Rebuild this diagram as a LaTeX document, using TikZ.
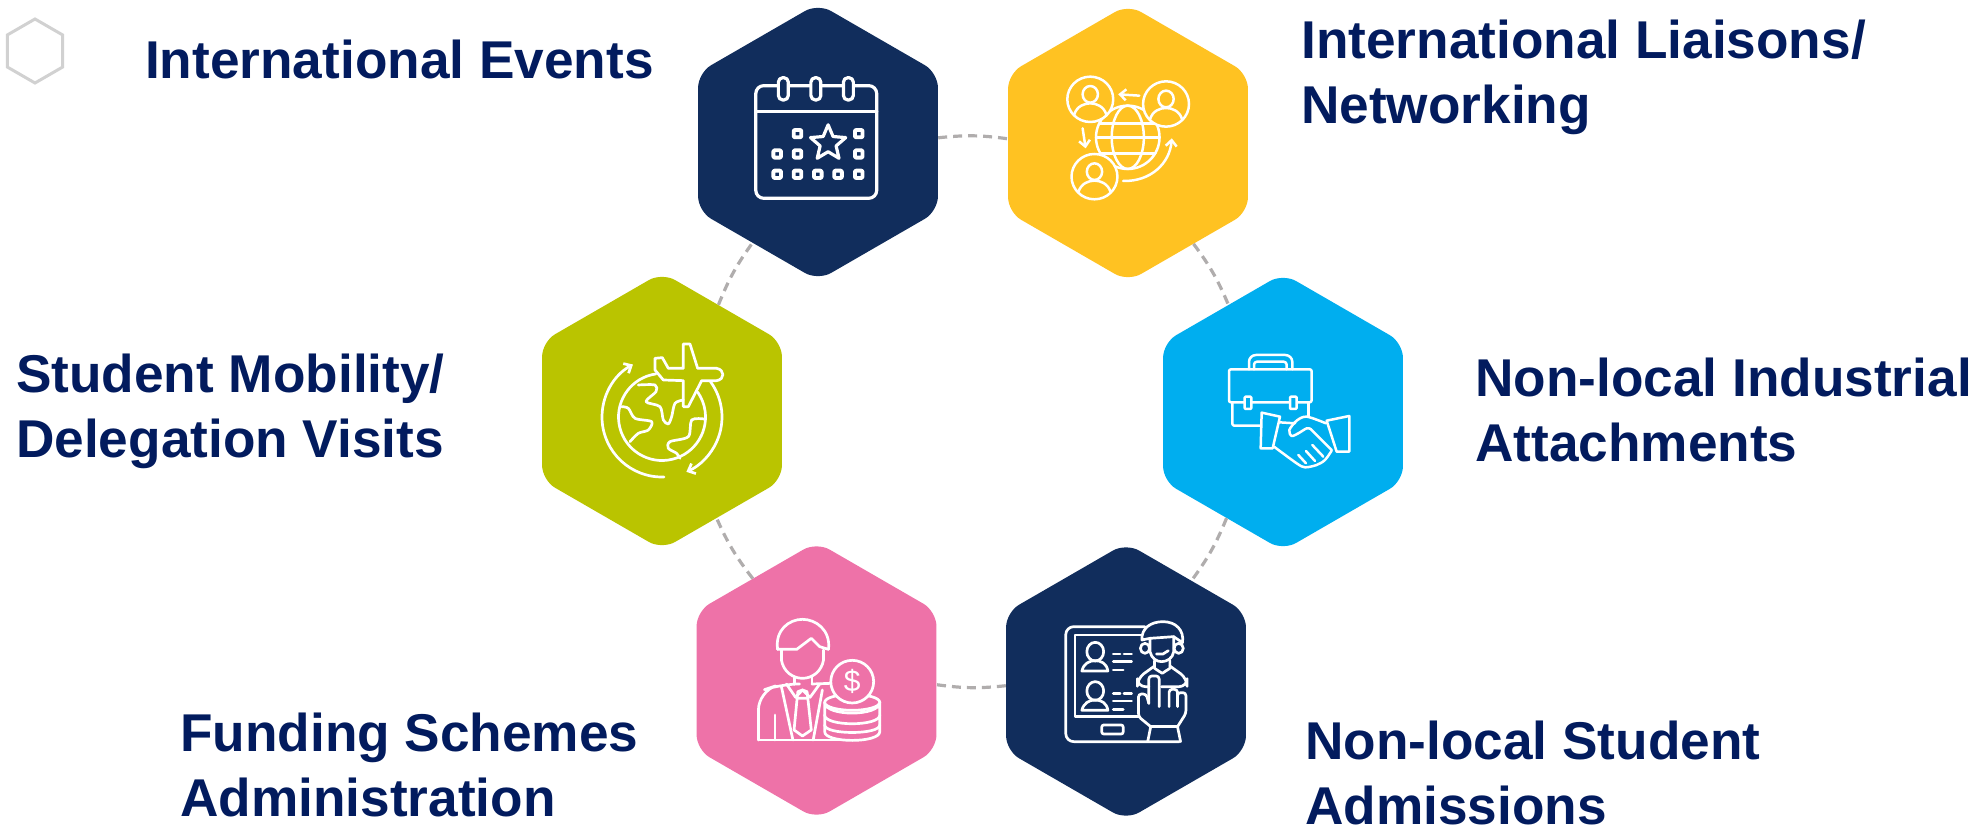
\documentclass[tikz,border=0pt]{standalone}
\usepackage{fontspec}
\setmainfont{Liberation Sans}
\usetikzlibrary{shapes.geometric, arrows.meta, positioning}

\definecolor{navyhex}{HTML}{112D5C}
\definecolor{yellowhex}{HTML}{FFC222}
\definecolor{greenhex}{HTML}{BAC400}
\definecolor{bluehex}{HTML}{00AEEF}
\definecolor{pinkhex}{HTML}{EE72A8}
\definecolor{labelnavy}{HTML}{021B5E}
\definecolor{ringgray}{HTML}{B0ADAD}

\tikzset{
    hexnode/.style={regular polygon, regular polygon sides=6, regular polygon rotate=30, minimum size=277pt, inner sep=0pt, rounded corners=15pt, fill=#1},
    hexlabel/.style={anchor=west, inner sep=0pt, align=left, text=labelnavy, font=\fontsize{53.2}{65}\selectfont\bfseries},
    ringline/.style={ringgray, line width=3.2pt, dash pattern=on 9pt off 6pt},
    icon/.style={white, line width=3pt, line cap=round, line join=round, >={Straight Barb[length=6pt, width=11pt]}},
    cropwide/.style={x=0.3827pt, y=-0.3333pt},
    cropsquare/.style={x=0.3333pt, y=-0.3333pt},
    personpic/.pic={
        \draw[fill=yellowhex] (0,0) ellipse [x radius=60, y radius=68];
        \draw (0,-15) ellipse [x radius=20, y radius=25];
        \draw (-42,46) .. controls (-35,20) and (-15,12) .. (0,12) .. controls (15,12) and (35,20) .. (42,46);
    }
}

\begin{document}
\begin{tikzpicture}[x=1pt, y=1pt]
    \useasboundingbox (0,0) rectangle (1977,-829);

    % small outline hexagon, top left
    \node[regular polygon, regular polygon sides=6, regular polygon rotate=30, minimum size=64pt, inner sep=0pt, draw=black!18, line width=3pt] (cornerhex) at (35,-51) {};

    % the six hexagons
    \node[hexnode=navyhex] (events) at (818,-142) {};
    \node[hexnode=yellowhex] (liaisons) at (1128,-143) {};
    \node[hexnode=bluehex] (attach) at (1283,-412) {};
    \node[hexnode=navyhex] (admit) at (1126,-681.5) {};
    \node[hexnode=pinkhex] (funding) at (816.5,-680.5) {};
    \node[hexnode=greenhex] (mobility) at (662,-411) {};

    % dashed ring pieces
    \draw[ringline] (events.2) to[bend left=7] (liaisons.178);
    \draw[ringline] (liaisons.-57.5) to[bend left=7] (attach.117.6);
    \draw[ringline] (attach.242.3) to[bend left=7] (admit.57.4);
    \draw[ringline] (admit.182) to[bend left=7] (funding.-2.4);
    \draw[ringline] (funding.122.2) to[bend left=7] (mobility.-63);
    \draw[ringline] (mobility.62.4) to[bend left=7] (events.237);

    % labels
    \node[hexlabel] (eventstext) at (145,-59) {International Events};
    \node[hexlabel] (liaisonstext) at (1301,-77) {International Liaisons/\\Networking};
    \node[hexlabel] (attachtext) at (1475,-410) {Non-local Industrial\\Attachments};
    \node[hexlabel] (admittext) at (1305,-773) {Non-local Student\\Admissions};
    \node[hexlabel] (fundingtext) at (180,-765) {Funding Schemes\\Administration};
    \node[hexlabel] (mobilitytext) at (16,-411) {Student Mobility/\\Delegation Visits};

    % calendar icon
    \begin{scope}[icon, line width=3.2pt, shift={(680,0)}, cropwide]
        \draw[rounded corners=8pt] (198,257) rectangle (514,595);
        \draw (198,335) -- (514,335);
        \foreach \ringx in {270,355,440} {
            \draw[fill=navyhex, rounded corners=4.5pt] (\ringx-13,233) rectangle (\ringx+13,300);
        }
        \foreach \boxx/\boxy in {307/401, 467/401, 254/462, 307/462, 467/462, 254/523, 307/523, 360/523, 413/523, 467/523} {
            \draw[rounded corners=1pt, line width=3.8pt] (\boxx-10,\boxy-11) rectangle (\boxx+10,\boxy+11);
        }
        \node[star, star points=5, star point ratio=2.2, draw=white, inner sep=0pt, minimum size=37pt] (calstar) at (387,430) {};
    \end{scope}

    % globe and people icon
    \begin{scope}[icon, line width=2.5pt, shift={(680,0)}, cropwide]
        \draw (1170,412) ellipse [x radius=83, y radius=95];
        \draw (1170,412) ellipse [x radius=42, y radius=95];
        \draw (1096,370) -- (1244,370);
        \draw (1087,412) -- (1253,412);
        \draw (1098,460) -- (1242,460);
        \pic at (1072,298) {personpic};
        \pic at (1270,312) {personpic};
        \pic at (1083,530) {personpic};
        \draw[->] (1200,287) -- (1145,283);
        \draw[->] (1052,385) -- (1060,445);
        \draw[->] (1158,543) .. controls (1230,545) and (1280,490) .. (1285,415);
    \end{scope}

    % handshake and briefcase icon
    \begin{scope}[icon, line width=2.5pt, shift={(1150,-260)}, cropsquare]
        \draw[rounded corners=2pt] (237,328) rectangle (485,427);
        \draw[rounded corners=2pt] (247,427) -- (247,497) -- (330,497);
        \draw (475,427) -- (475,470);
        \draw[rounded corners=7pt] (297,328) -- (297,285) -- (427,285) -- (427,328);
        \draw[rounded corners=3pt] (312,328) -- (312,305) -- (410,305) -- (410,328);
        \draw[fill=bluehex, rounded corners=1pt] (284,410) rectangle (304,447);
        \draw[fill=bluehex, rounded corners=1pt] (420,410) rectangle (440,447);
        \draw[fill=bluehex] (335,458) -- (390,470) -- (368,565) -- (332,565) -- cycle;
        \draw[fill=bluehex] (530,482) -- (598,468) -- (598,575) -- (560,575) -- cycle;
        \draw (388,487) -- (435,490);
        \draw plot[smooth] coordinates {(372,560) (440,610) (465,622) (500,615) (525,600) (545,572)};
        \draw plot[smooth] coordinates {(528,490) (470,470) (440,482) (418,510) (425,528) (445,520) (470,505) (482,507)};
        \draw (482,507) -- (545,570);
        \draw (445,585) -- (468,610);
        \draw (468,573) -- (495,603);
        \draw (487,555) -- (520,590);
    \end{scope}

    % tablet and advisor icon
    \begin{scope}[icon, line width=2.7pt, shift={(680,-540)}, cropwide]
        \draw[rounded corners=8pt] (1215,260) -- (1008,260) -- (1008,605) -- (1305,605);
        \draw (1205,285) -- (1032,285) -- (1032,530) -- (1200,530);
        \draw[rounded corners=2pt] (1102,555) rectangle (1158,582);
        \foreach \rowy in {0,118} {
            \draw (1085,335+\rowy) ellipse [x radius=22, y radius=28];
            \draw (1050,393+\rowy) .. controls (1055,370+\rowy) and (1070,362+\rowy) .. (1085,362+\rowy) .. controls (1100,362+\rowy) and (1115,370+\rowy) .. (1118,393+\rowy) -- cycle;
            \draw (1132,342+\rowy) -- (1150,342+\rowy);
            \draw (1160,342+\rowy) -- (1180,342+\rowy);
            \draw (1132,365+\rowy) -- (1180,365+\rowy);
            \draw (1132,390+\rowy) -- (1158,390+\rowy);
        }
        % advisor head
        \draw[fill=navyhex] (1215,325) ellipse [x radius=12, y radius=15];
        \draw[fill=navyhex] (1303,325) ellipse [x radius=12, y radius=15];
        \draw[fill=navyhex] (1207,300) .. controls (1205,265) and (1230,245) .. (1262,245) .. controls (1295,245) and (1318,270) .. (1313,308) -- (1290,290) -- (1228,295) -- cycle;
        \draw (1228,295) -- (1228,335) .. controls (1232,355) and (1245,365) .. (1258,365) .. controls (1272,365) and (1288,355) .. (1290,335) -- (1290,290);
        \draw (1245,342) -- (1262,342) -- (1276,332);
        % advisor body and hand
        \draw (1240,362) -- (1240,385) -- (1260,400) -- (1280,385) -- (1280,362);
        \draw[rounded corners=8pt] (1225,440) -- (1195,440) -- (1195,415) -- (1240,378);
        \draw[rounded corners=8pt] (1280,378) -- (1325,415) -- (1325,440) -- (1258,440);
        \draw[rounded corners=3pt] (1225,490) -- (1225,408) -- (1252,408) -- (1252,500);
        \draw[rounded corners=3pt] (1225,490) -- (1218,462) -- (1198,462) -- (1198,530) -- (1230,560);
        \draw[rounded corners=3pt] (1278,500) -- (1278,448) -- (1300,448) -- (1300,500);
        \draw[rounded corners=3pt] (1300,470) -- (1300,458) -- (1322,458) -- (1322,520) -- (1300,560);
        \draw (1230,560) -- (1300,560);
        \draw (1230,560) -- (1222,605);
        \draw (1300,560) -- (1308,605);
    \end{scope}

    % manager and coins icon
    \begin{scope}[icon, line width=2.7pt, shift={(680,-540)}, cropwide]
        \draw (255,328) .. controls (248,270) and (285,238) .. (320,238) .. controls (355,238) and (394,270) .. (388,328);
        \draw (255,328) -- (305,328) -- (343,295) -- (365,320) -- (388,328);
        \draw (265,330) -- (265,360) .. controls (270,395) and (295,415) .. (320,415) .. controls (345,415) and (370,395) .. (375,360) -- (375,330);
        \draw (300,410) -- (300,432);
        \draw (345,410) -- (345,432);
        \draw[rounded corners=18pt] (205,600) -- (205,455) -- (265,432) -- (300,432);
        \draw (345,432) -- (395,430);
        \draw (205,600) -- (470,600);
        \draw (265,440) -- (295,600);
        \draw (372,450) -- (348,600);
        \draw (278,432) -- (302,472) -- (320,450) -- (340,472) -- (365,432);
        \draw (308,455) -- (320,450) -- (332,455) -- (334,475) -- (306,475) -- cycle;
        \draw (306,475) -- (298,570) -- (320,588) -- (343,570) -- (334,475);
        \draw (248,525) -- (248,600);
        \draw[fill=pinkhex] (378,525) .. controls (378,555) and (522,555) .. (522,525) -- (522,575) .. controls (522,610) and (378,610) .. (378,575) -- cycle;
        \draw (378,555) .. controls (378,585) and (522,585) .. (522,555);
        \draw[fill=pinkhex] (378,487) .. controls (378,530) and (522,530) .. (522,487) -- (522,525) .. controls (522,560) and (378,560) .. (378,525) -- cycle;
        \draw[fill=pinkhex] (450,487) ellipse [x radius=72, y radius=24];
        \draw[fill=pinkhex] (450,425) ellipse [x radius=56, y radius=64];
        \node[text=white, inner sep=0pt, font=\fontsize{30}{30}\selectfont] (coindollar) at (450,425) {\$};
    \end{scope}

    % plane around the globe icon
    \begin{scope}[icon, line width=2.7pt, shift={(662,-417)}]
        \draw[->] (272:60) arc (272:119:60);
        \draw[->] (36:60) arc (36:-66:60);
        \draw (98:43.5) arc (98:395:43.5);
    \end{scope}
    \begin{scope}[icon, line width=2.7pt, shift={(520,-260)}, cropsquare]
        \draw[fill=greenhex] (405,295) -- (427,293) -- (445,325) -- (490,325) -- (490,252) -- (510,252) -- (533,325) -- (590,325) .. controls (615,330) and (615,358) .. (590,362) -- (545,362) -- (505,440) -- (490,440) -- (490,362) -- (430,360) -- (405,330) -- cycle;
        \draw plot[smooth] coordinates {(355,375) (405,375) (408,395) (378,425) (420,440) (430,480) (445,492) (455,470) (465,430) (490,420)};
        \draw plot[smooth] coordinates {(305,440) (325,445) (345,475) (395,485) (385,510) (355,520) (330,545)};
        \draw plot[smooth] coordinates {(552,477) (515,480) (505,530) (450,545) (445,565) (470,580) (480,595)};
    \end{scope}
\end{tikzpicture}
\end{document}
